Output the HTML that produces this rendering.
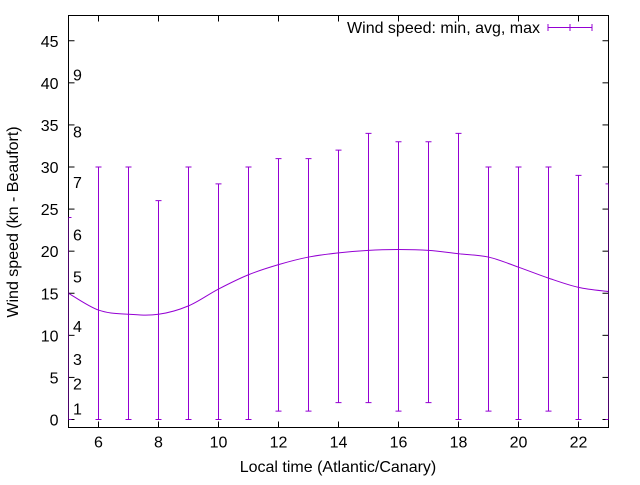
<!DOCTYPE html>
<html><head><meta charset="utf-8"><style>
body{margin:0;background:#fff}
svg text{font-family:"Liberation Sans",sans-serif;font-size:16px;fill:#000}
</style></head><body>
<svg id="c" width="640" height="480" xmlns="http://www.w3.org/2000/svg">
<rect width="640" height="480" fill="#fff"/>
<g id="axes"></g>
<g id="series"></g>
<text x="540" y="33" text-anchor="end">Wind speed: min, avg, max</text>
<g stroke="#9400d3" stroke-width="1">
<line x1="548" y1="27.5" x2="592" y2="27.5"/><line x1="548" y1="24" x2="548" y2="31"/><line x1="592" y1="24" x2="592" y2="31"/><line x1="570" y1="24" x2="570" y2="31"/>
</g>
<text x="338" y="472" text-anchor="middle">Local time (Atlantic/Canary)</text>
<text transform="translate(18,222) rotate(-90)" text-anchor="middle">Wind speed (kn - Beaufort)</text>
</svg>
<script>
const hours=[5,6,7,8,9,10,11,12,13,14,15,16,17,18,19,20,21,22,23];
const avgs=[15,13,12.5,12.5,13.5,15.5,17.2,18.4,19.3,19.8,20.1,20.2,20.1,19.7,19.3,18.1,16.8,15.7,15.2];
const mins=[0,0,0,0,0,0,0,1,1,2,2,1,2,0,1,0,1,0,0];
const maxs=[24,30,30,26,30,28,30,31,31,32,34,33,33,34,30,30,30,29,28];
const xTicks=[6,8,10,12,14,16,18,20,22];
const yTicks=[0,5,10,15,20,25,30,35,40,45];
const beaufortLabels=["1","2","3","4","5","6","7","8","9"];
const beaufortVals=[1.3,4.3,7.2,11.1,17,22,28.2,34.2,41];
const L=68.5,R=608.5,T=15.5,B=427.5,X0=5,X1=23,Y0=-0.95,Y1=48;
const sx=v=>L+(v-X0)/(X1-X0)*(R-L);
const sy=v=>B-(v-Y0)/(Y1-Y0)*(B-T);
const NS="http://www.w3.org/2000/svg";
function mk(p,t,a){const e=document.createElementNS(NS,t);for(const k in a)e.setAttribute(k,a[k]);p.appendChild(e);return e;}
const ax=document.getElementById('axes');
for(const v of xTicks){const x=sx(v);
 const t=mk(ax,'line',{x1:x,y1:B,x2:x,y2:B-6,stroke:'#000'});
 
 
 mk(ax,'line',{x1:x,y1:T,x2:x,y2:T+6,stroke:'#000'});
 const l=mk(ax,'text',{x:x,y:B+20,'text-anchor':'middle'});l.textContent=v;
 
 
}
for(const v of yTicks){const y=sy(v);
 mk(ax,'line',{x1:L,y1:y,x2:L+6,y2:y,stroke:'#000'});
 mk(ax,'line',{x1:R,y1:y,x2:R-6,y2:y,stroke:'#000'});
 const l=mk(ax,'text',{x:L-10,y:y+6,'text-anchor':'end'});l.textContent=v;
 
 
}
beaufortLabels.forEach((s,i)=>{const l=mk(ax,'text',{x:73,y:sy(beaufortVals[i])+6});l.textContent=s;
 
 });
const fr=mk(ax,'rect',{x:L,y:T,width:R-L,height:B-T,fill:'none',stroke:'#000'});


const sg=document.getElementById('series');
mk(sg,'clipPath',{id:'cp'}).appendChild(document.createElementNS(NS,'rect'));
const cr=sg.querySelector('#cp rect');cr.setAttribute('x',L);cr.setAttribute('y',T);cr.setAttribute('width',R-L);cr.setAttribute('height',B-T);
const g=mk(sg,'g',{'clip-path':'url(#cp)',stroke:'#9400d3','stroke-width':1,fill:'none'});
hours.forEach((h,i)=>{const x=sx(h);
 const b=mk(g,'path',{d:`M${x},${sy(mins[i])}V${sy(maxs[i])}M${x-3},${sy(mins[i])}h6M${x-3},${sy(maxs[i])}h6`});
 
 
});
const P=hours.map((h,i)=>[sx(h),sy(avgs[i])]);
let d=`M${P[0][0]},${P[0][1]}`;
for(let i=0;i<P.length-1;i++){const p0=P[Math.max(0,i-1)],p1=P[i],p2=P[i+1],p3=P[Math.min(P.length-1,i+2)];
 d+=`C${p1[0]+(p2[0]-p0[0])/6},${p1[1]+(p2[1]-p0[1])/6} ${p2[0]-(p3[0]-p1[0])/6},${p2[1]-(p3[1]-p1[1])/6} ${p2[0]},${p2[1]}`;}
const ln=mk(g,'path',{d:d});


</script>
</body></html>
